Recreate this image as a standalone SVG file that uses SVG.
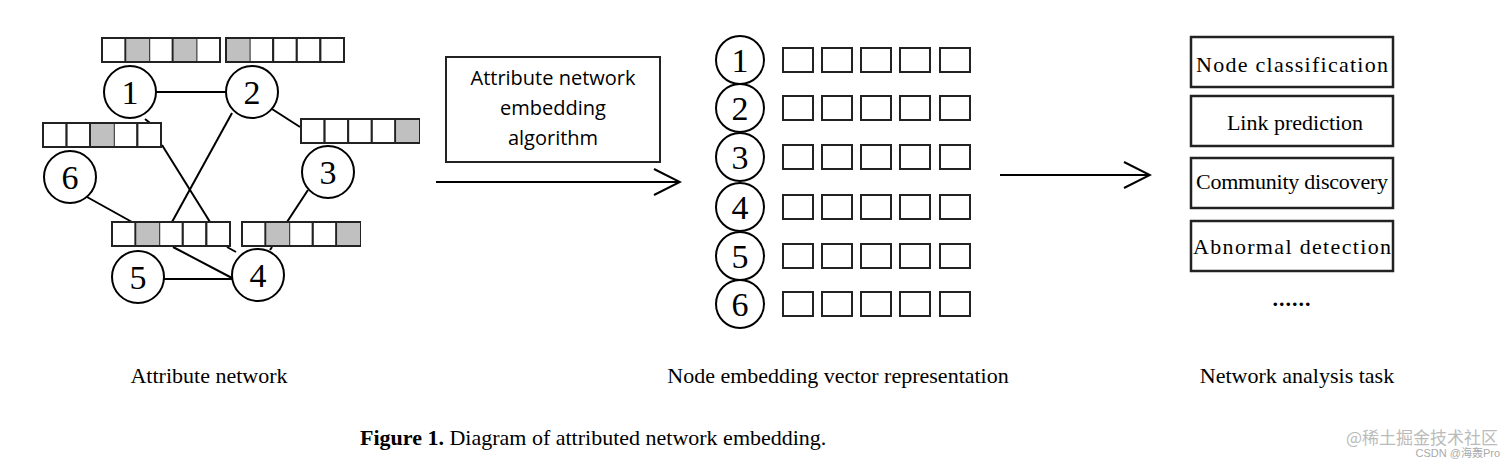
<svg xmlns="http://www.w3.org/2000/svg" width="1512" height="464" viewBox="0 0 1512 464">
<style>
.c{fill:#fff;stroke:#000;stroke-width:2}
.cell{fill:#fff;stroke:#222;stroke-width:2}
.g{fill:#c0c0c0}
.n{font-family:"Liberation Serif",serif;font-size:34px;text-anchor:middle}
.t{font-family:"Liberation Serif",serif;font-size:22px}
.s{font-family:"Open Sans",sans-serif;font-size:20px;text-anchor:middle}
.ln{stroke:#000;stroke-width:2;fill:none}
.sq{fill:#fff;stroke:#222;stroke-width:2}
</style>
<defs>
<marker id="a" markerWidth="30" markerHeight="30" refX="28" refY="15" orient="auto" markerUnits="userSpaceOnUse"><path d="M2,2 L28,15 L2,28" fill="none" stroke="#000" stroke-width="2"/></marker>
<g id="bar"><rect class="cell" x="0" y="0" width="23.6" height="24"/><rect class="cell" x="23.6" y="0" width="23.6" height="24"/><rect class="cell" x="47.2" y="0" width="23.6" height="24"/><rect class="cell" x="70.8" y="0" width="23.6" height="24"/><rect class="cell" x="94.4" y="0" width="23.6" height="24"/></g>
<g id="row"><rect class="sq" x="0" y="0" width="30" height="24"/><rect class="sq" x="39" y="0" width="30" height="24"/><rect class="sq" x="78" y="0" width="30" height="24"/><rect class="sq" x="117" y="0" width="30" height="24"/><rect class="sq" x="157" y="0" width="30" height="24"/></g>
</defs>
<rect width="1512" height="464" fill="#fff"/>
<g id="connectors">
<line class="ln" x1="156" y1="92" x2="226" y2="92"/>
<line class="ln" x1="272" y1="109" x2="300" y2="127"/>
<line class="ln" x1="145" y1="119" x2="150" y2="123"/>
<line class="ln" x1="162" y1="145" x2="210" y2="222"/>
<line class="ln" x1="232" y1="113" x2="172" y2="222"/>
<line class="ln" x1="87" y1="197" x2="132" y2="222"/>
<line class="ln" x1="308" y1="190" x2="287" y2="222"/>
<line class="ln" x1="173" y1="247" x2="232" y2="278"/>
<line class="ln" x1="227" y1="247" x2="236" y2="252"/>
<line class="ln" x1="272" y1="247" x2="270" y2="250"/>
<line class="ln" x1="164" y1="279" x2="232" y2="279"/>
<line class="ln" x1="436" y1="182" x2="680" y2="182" marker-end="url(#a)"/>
<line class="ln" x1="1000" y1="175" x2="1150" y2="175" marker-end="url(#a)"/>
</g>
<g id="bars">
<use href="#bar" x="102" y="38"/><rect class="g" x="126.6" y="39" width="22.6" height="22"/><rect class="g" x="173.8" y="39" width="22.6" height="22"/>
<use href="#bar" x="226" y="38"/><rect class="g" x="227" y="39" width="22.6" height="22"/>
<use href="#bar" x="43" y="123"/><rect class="g" x="91.2" y="124" width="22.6" height="22"/>
<use href="#bar" x="301" y="119"/><rect class="g" x="396.4" y="120" width="22.6" height="22"/>
<use href="#bar" x="112" y="222"/><rect class="g" x="136.6" y="223" width="22.6" height="22"/>
<use href="#bar" x="242" y="222"/><rect class="g" x="266.6" y="223" width="22.6" height="22"/><rect class="g" x="337.4" y="223" width="22.6" height="22"/>
</g>
<g id="node1"><circle class="c" cx="130" cy="92" r="26"/><text class="n" x="130" y="104">1</text></g>
<g id="node2"><circle class="c" cx="252" cy="92" r="26"/><text class="n" x="252" y="104">2</text></g>
<g id="node3"><circle class="c" cx="328" cy="172" r="26"/><text class="n" x="328" y="184">3</text></g>
<g id="node4"><circle class="c" cx="258" cy="275" r="26"/><text class="n" x="258" y="287">4</text></g>
<g id="node5"><circle class="c" cx="138" cy="277" r="26"/><text class="n" x="138" y="289">5</text></g>
<g id="node6"><circle class="c" cx="70" cy="177" r="26"/><text class="n" x="70" y="189">6</text></g>
<g id="algo"><rect x="446" y="57" width="214" height="105" fill="#fff" stroke="#222" stroke-width="2"/>
<text class="s" x="553" y="85">Attribute  network</text><text class="s" x="553" y="115">embedding</text><text class="s" x="553" y="145">algorithm</text></g>
<g id="embeddings">
<circle class="c" cx="740" cy="60" r="24"/><text class="n" x="740" y="72">1</text><use href="#row" x="783" y="48"/>
<circle class="c" cx="740" cy="108" r="24"/><text class="n" x="740" y="120">2</text><use href="#row" x="783" y="96"/>
<circle class="c" cx="740" cy="157" r="24"/><text class="n" x="740" y="169">3</text><use href="#row" x="783" y="145"/>
<circle class="c" cx="740" cy="207" r="24"/><text class="n" x="740" y="219">4</text><use href="#row" x="783" y="195"/>
<circle class="c" cx="740" cy="256" r="24"/><text class="n" x="740" y="268">5</text><use href="#row" x="783" y="244"/>
<circle class="c" cx="740" cy="304" r="24"/><text class="n" x="740" y="316">6</text><use href="#row" x="783" y="292"/>
</g>
<g id="tasks">
<rect x="1191" y="37" width="202" height="50" fill="#fff" stroke="#222" stroke-width="2.5"/><text class="t" x="1292" y="72" text-anchor="middle" textLength="192">Node classification</text>
<rect x="1191" y="96" width="202" height="50" fill="#fff" stroke="#222" stroke-width="2.5"/><text class="t" x="1295" y="130" text-anchor="middle">Link prediction</text>
<rect x="1191" y="158" width="202" height="50" fill="#fff" stroke="#222" stroke-width="2.5"/><text class="t" x="1292" y="189" text-anchor="middle" font-size="19" textLength="192">Community discovery</text>
<rect x="1191" y="221" width="202" height="50" fill="#fff" stroke="#222" stroke-width="2.5"/><text class="t" x="1292" y="254" text-anchor="middle" textLength="198">Abnormal detection</text>
<text class="t" x="1292" y="306" text-anchor="middle" font-weight="bold" letter-spacing="1">......</text>
</g>
<text class="t" x="209" y="383" text-anchor="middle">Attribute network</text>
<text class="t" x="838" y="383" text-anchor="middle">Node embedding vector representation</text>
<text class="t" x="1297" y="383" text-anchor="middle">Network analysis task</text>
<text x="360" y="445" font-family="'Liberation Serif',serif" font-size="22"><tspan font-weight="bold">Figure 1.</tspan> Diagram of attributed network embedding.</text>
<text x="1498" y="444" text-anchor="end" font-family="'Noto Sans CJK SC',sans-serif" font-size="17" fill="#bbb">@稀土掘金技术社区</text>
<text x="1500" y="457" text-anchor="end" font-family="'Liberation Sans','Noto Sans CJK SC',sans-serif" font-size="11" fill="#aaa">CSDN @海轰Pro</text>
</svg>
